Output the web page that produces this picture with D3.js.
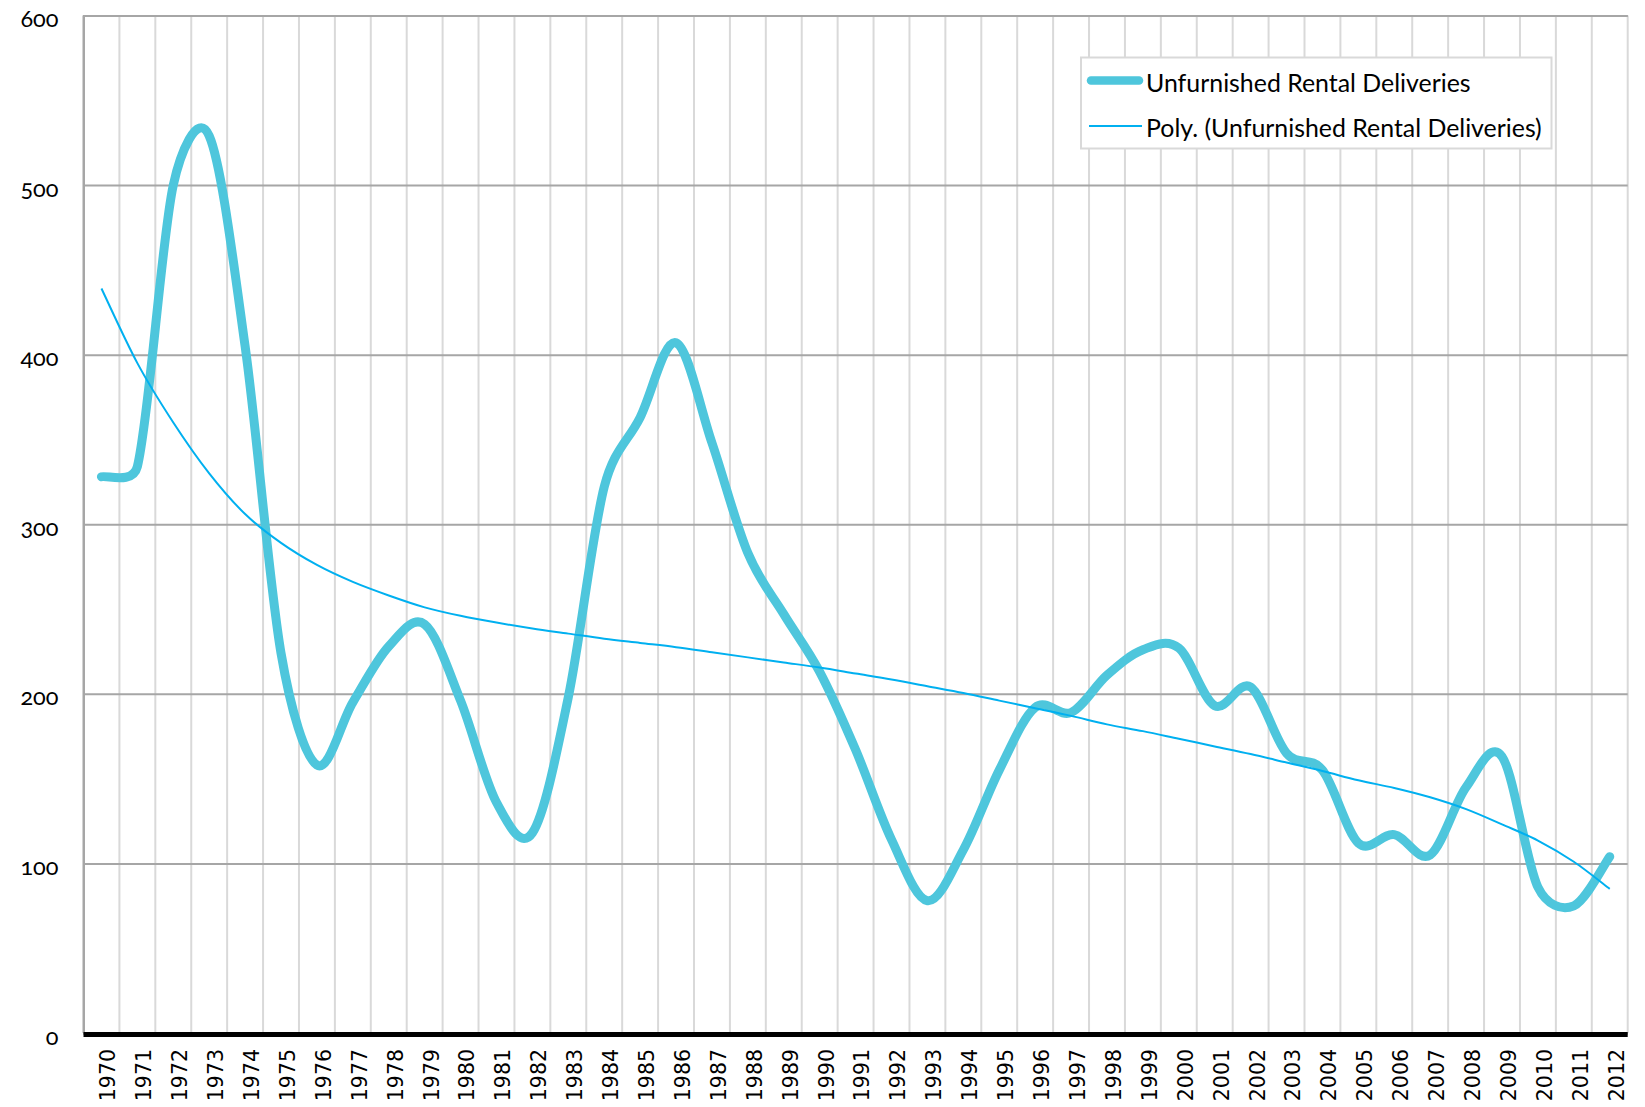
<!DOCTYPE html>
<html><head><meta charset="utf-8">
<script src="https://cdn.jsdelivr.net/npm/d3@7"></script>
<style>
html,body{margin:0;padding:0;background:#fff;}
svg{display:block;}
</style></head>
<body>
<svg id="chart" width="1645" height="1107"></svg>
<script>
const years = ["1970","1971","1972","1973","1974","1975","1976","1977","1978","1979",
  "1980","1981","1982","1983","1984","1985","1986","1987","1988","1989",
  "1990","1991","1992","1993","1994","1995","1996","1997","1998","1999",
  "2000","2001","2002","2003","2004","2005","2006","2007","2008","2009",
  "2010","2011","2012"];
const deliveries = [328,334,500,529,405,224,158,195,228,241,
  196,136,118,198,322,363,407,348,283,247,
  213,167,114,78,108,155,192,189,211,226,
  227,193,204,165,155,112,117,105,145,163,
  86,75,104];
const polyTrend = [439,395,360,330,306,289,276,266,258,251,
  246,242,238.5,235.5,232.5,230,227.5,224.5,221.5,218.5,
  215.5,212,208.5,204.5,200.5,196,191.5,187,182,178,
  173.5,169,164.5,159.5,154.5,149,144.5,139,132,123,
  113.5,101,85];
const yTicks = [0,100,200,300,400,500,600];
const seriesNames = ["Unfurnished Rental Deliveries", "Poly. (Unfurnished Rental Deliveries)"];

const svg = d3.select("#chart");
const W = 1645, H = 1107;
const plot = {left: 83.5, right: 1627.7, top: 15.5, bottom: 1033};

svg.append("rect").attr("width", W).attr("height", H).attr("fill", "#fff");

const x = d3.scaleBand().domain(years).range([plot.left, plot.right]).padding(0);
const y = d3.scaleLinear().domain([0, 600]).range([plot.bottom, plot.top]);
const cx = d => x(d) + x.bandwidth() / 2;

// Spreadsheet-style smoothing curve (Bezier through points, capped arms)
function SmoothCurve(context) { this._context = context; }
SmoothCurve.prototype = {
  areaStart() { this._line = 0; },
  areaEnd() { this._line = NaN; },
  lineStart() { this._pts = []; },
  point(px, py) { this._pts.push([+px, +py]); },
  lineEnd() {
    const p = this._pts, n = p.length, c = this._context;
    if (!n) return;
    c.moveTo(p[0][0], p[0][1]);
    if (n === 1) return;
    const dist = (a, b) => Math.hypot(b[0] - a[0], b[1] - a[1]);
    const arm = (i, side) => {
      const prev = p[Math.max(i - 1, 0)], next = p[Math.min(i + 1, n - 1)];
      const tx = next[0] - prev[0], ty = next[1] - prev[1];
      const L = Math.hypot(tx, ty) || 1;
      const dSide = side > 0 ? dist(p[i], p[Math.min(i + 1, n - 1)]) : dist(p[Math.max(i - 1, 0)], p[i]);
      const a = Math.min(L / 6, dSide / 2);
      return [p[i][0] + side * tx / L * a, p[i][1] + side * ty / L * a];
    };
    for (let i = 0; i < n - 1; i++) {
      const c1 = arm(i, 1), c2 = arm(i + 1, -1);
      c.bezierCurveTo(c1[0], c1[1], c2[0], c2[1], p[i + 1][0], p[i + 1][1]);
    }
  }
};
const curveSmooth = ctx => new SmoothCurve(ctx);

// vertical gridlines at category boundaries
const gV = svg.append("g");
gV.selectAll("line").data(years.slice(1).concat(["__end"])).join("line")
  .attr("x1", d => d === "__end" ? plot.right : x(d))
  .attr("x2", d => d === "__end" ? plot.right : x(d))
  .attr("y1", plot.top).attr("y2", plot.bottom)
  .attr("stroke", "#d9d9d9").attr("stroke-width", 2);

// horizontal gridlines + y labels
const yAxis = d3.axisLeft(y).tickValues(yTicks).tickSize(-(plot.right - plot.left)).tickPadding(0);
const gY = svg.append("g").attr("transform", `translate(${plot.left},0)`).call(yAxis);
gY.select(".domain").attr("stroke", "#a6a6a6").attr("stroke-width", 2);
gY.selectAll(".tick line").attr("stroke", "#a6a6a6").attr("stroke-width", 2);
gY.selectAll(".tick text")
  .attr("x", 58.5 - plot.left).attr("dy", null).attr("y", 11)
  .attr("text-anchor", "end")
  .style("font-family", "Lato, 'Open Sans', sans-serif")
  .style("font-size", "23.5px")
  .style("font-variant-numeric", "oldstyle-nums")
  .attr("fill", "#000");
svg.append("line").attr("x1", plot.left).attr("x2", plot.left)
  .attr("y1", plot.top).attr("y2", plot.bottom)
  .attr("stroke", "#a6a6a6").attr("stroke-width", 2);

// x axis labels
const xAxis = d3.axisBottom(x).tickSize(0).tickPadding(0);
const gX = svg.append("g").attr("transform", `translate(0,${plot.bottom})`).call(xAxis);
gX.select(".domain").remove();
gX.selectAll(".tick text")
  .attr("transform", "translate(6.5,16) rotate(-90)")
  .attr("x", 0).attr("y", 0).attr("dy", "0.36em")
  .attr("text-anchor", "end")
  .style("font-family", "'DejaVu Sans', sans-serif")
  .style("font-size", "20.5px")
  .attr("fill", "#000");

// thick black baseline
svg.append("line").attr("x1", plot.left).attr("x2", plot.right)
  .attr("y1", y(0) + 1.5).attr("y2", y(0) + 1.5)
  .attr("stroke", "#000").attr("stroke-width", 5);

const line = d3.line().x((d, i) => cx(years[i])).y(d => y(d)).curve(curveSmooth);

// main series
svg.append("path").datum(deliveries)
  .attr("d", line)
  .attr("fill", "none").attr("stroke", "#4ec6dc")
  .attr("stroke-width", 9).attr("stroke-linecap", "round").attr("stroke-linejoin", "round");

// trend line
svg.append("path").datum(polyTrend)
  .attr("d", line)
  .attr("fill", "none").attr("stroke", "#00b0f0")
  .attr("stroke-width", 2);

// legend
const lg = svg.append("g");
lg.append("rect").attr("x", 1081).attr("y", 57.5).attr("width", 470.5).attr("height", 91)
  .attr("fill", "#fff").attr("stroke", "#d9d9d9").attr("stroke-width", 2);
lg.append("line").attr("x1", 1091).attr("x2", 1139).attr("y1", 80.5).attr("y2", 80.5)
  .attr("stroke", "#4ec6dc").attr("stroke-width", 8.5).attr("stroke-linecap", "round");
lg.append("line").attr("x1", 1089).attr("x2", 1142).attr("y1", 126).attr("y2", 126)
  .attr("stroke", "#00b0f0").attr("stroke-width", 2);
const lt = lg.selectAll("text").data(seriesNames).join("text")
  .attr("x", 1146).attr("y", (d, i) => i === 0 ? 91.5 : 136.5)
  .style("font-family", "Lato, 'Open Sans', sans-serif")
  .style("font-size", "24px")
  .attr("fill", "#000")
  .text(d => d);
const measured = lt.nodes()[0].getComputedTextLength();
const fs = 24 * 324.7 / measured;
lt.style("font-size", fs.toFixed(2) + "px");
</script>
</body></html>
